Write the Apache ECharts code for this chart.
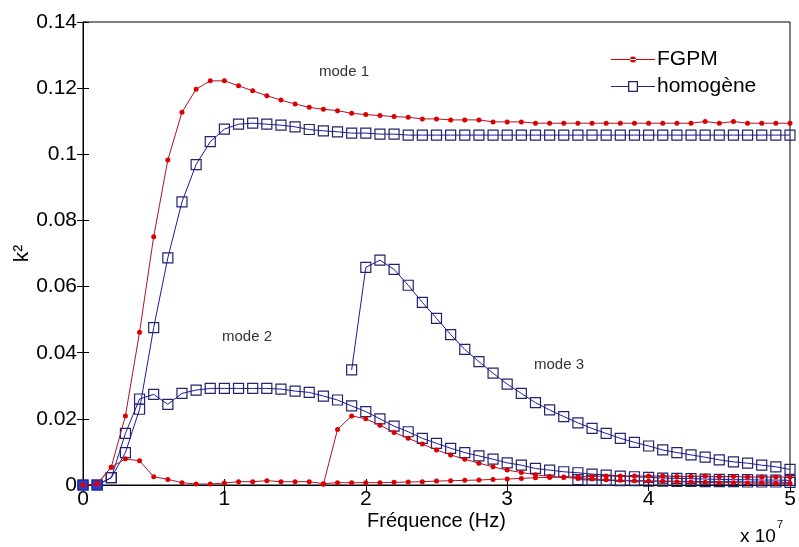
<!DOCTYPE html>
<html>
<head>
<meta charset="utf-8">
<script src="https://cdn.jsdelivr.net/npm/echarts@6/dist/echarts.min.js"></script>
<style>html,body{margin:0;padding:0;background:#fff}#c{width:799px;height:547px}</style>
</head>
<body>
<div id="c"></div>
<script>
// Frequency in units of 1e7 Hz
var freq = [0,0.1,0.2,0.3,0.4,0.5,0.6,0.7,0.8,0.9,1.0,1.1,1.2,1.3,1.4,1.5,1.6,1.7,1.8,1.9,2.0,2.1,2.2,2.3,2.4,2.5,2.6,2.7,2.8,2.9,3.0,3.1,3.2,3.3,3.4,3.5,3.6,3.7,3.8,3.9,4.0,4.1,4.2,4.3,4.4,4.5,4.6,4.7,4.8,4.9,5.0];
var xTicks = [0,1,2,3,4,5];
var yTicks = [0,0.02,0.04,0.06,0.08,0.1,0.12,0.14];

var fgpmMode1 = [0,0.0003,0.0054,0.0209,0.0462,0.0751,0.0983,0.1127,0.1197,0.1222,0.1222,0.1207,0.1192,0.1177,0.1164,0.1152,0.1142,0.1136,0.1132,0.1124,0.1120,0.1117,0.1114,0.1112,0.1107,0.1107,0.1104,0.1104,0.1104,0.1098,0.1098,0.1098,0.1094,0.1094,0.1094,0.1094,0.1094,0.1094,0.1094,0.1094,0.1094,0.1094,0.1094,0.1094,0.1099,0.1094,0.1099,0.1094,0.1094,0.1094,0.1094];
var fgpmMode2 = [0,0.0003,0.0054,0.0079,0.0073,0.0025,0.0017,0.0007,0.0003,0.0003,0.0006,0.0010,0.0010,0.0013,0.0010,0.0010,0.0010,0.0004,0.0007,0.0007,0.0007,0.0007,0.0008,0.0009,0.0010,0.0012,0.0013,0.0014,0.0015,0.0017,0.0018,0.0020,0.0022,0.0023,0.0024,0.0025,0.0026,0.0027,0.0027,0.0027,0.0027,0.0027,0.0026,0.0026,0.0027,0.0025,0.0026,0.0024,0.0024,0.0024,0.0024];
var fgpmMode3 = [null,null,null,null,null,null,null,null,null,null,null,null,null,null,null,null,null,0.0002,0.0168,0.0209,0.0200,0.0181,0.0159,0.0141,0.0124,0.0106,0.0091,0.0078,0.0066,0.0055,0.0045,0.0038,0.0031,0.0026,0.0023,0.0020,0.0018,0.0016,0.0014,0.0013,0.0012,0.0011,0.0010,0.0009,0.0008,0.0007,0.0007,0.0006,0.0006,0.0005,0.0005];

var homMode1 = [0,0,0.0022,0.0098,0.0229,0.0476,0.0687,0.0856,0.0969,0.1038,0.1076,0.1091,0.1094,0.1091,0.1088,0.1083,0.1075,0.1071,0.1068,0.1064,0.1064,0.1061,0.1061,0.1058,0.1058,0.1058,0.1058,0.1058,0.1058,0.1058,0.1058,0.1058,0.1058,0.1058,0.1058,0.1058,0.1058,0.1058,0.1058,0.1058,0.1058,0.1058,0.1058,0.1058,0.1058,0.1058,0.1058,0.1058,0.1058,0.1058,0.1058];
var homMode2 = [0,0,0.0022,0.0156,0.0260,0.0274,0.0244,0.0277,0.0287,0.0292,0.0292,0.0292,0.0292,0.0292,0.0290,0.0284,0.0280,0.0269,0.0257,0.0239,0.0222,0.0200,0.0178,0.0161,0.0141,0.0126,0.0111,0.0098,0.0088,0.0078,0.0067,0.0060,0.0050,0.0045,0.0040,0.0037,0.0033,0.0030,0.0027,0.0025,0.0023,0.0021,0.0020,0.0019,0.0018,0.0017,0.0016,0.0016,0.0015,0.0015,0.0014];
var homMode3 = [null,null,null,null,null,null,null,null,null,null,null,null,null,null,null,null,null,null,null,0.0348,0.0658,0.0680,0.0652,0.0604,0.0552,0.0504,0.0455,0.0410,0.0373,0.0338,0.0305,0.0277,0.0249,0.0227,0.0207,0.0188,0.0171,0.0156,0.0141,0.0129,0.0118,0.0106,0.0098,0.0091,0.0084,0.0076,0.0070,0.0066,0.0060,0.0055,0.0047];
var homMode4 = [null,null,null,null,null,null,null,null,null,null,null,null,null,null,null,null,null,null,null,null,null,null,null,null,null,null,null,null,null,null,null,null,null,null,null,0.0016,0.0015,0.0014,0.0013,0.0013,0.0012,0.0012,0.0011,0.0011,0.0010,0.0010,0.0010,0.0009,0.0009,0.0009,0.0008];

var RED_LINE = '#b0102a', RED_DOT = '#dd0000';
var BLUE_LINE = '#1a1aa0', BLUE_SQ = '#23236e';

function pairs(ys, fillFirst) {
  var out = [];
  for (var i = 0; i < freq.length; i++) {
    if (ys[i] === null) continue;
    var item = {value: [freq[i], ys[i]]};
    if (fillFirst && i < 2) item.itemStyle = {color: '#1f3fe0', borderColor: '#1f3fe0'};
    out.push(item);
  }
  return out;
}
function fgpm(ys) {
  return {name: 'FGPM', type: 'line', data: pairs(ys, false), symbol: 'circle', symbolSize: 5,
    showSymbol: true, lineStyle: {color: RED_LINE, width: 1}, itemStyle: {color: RED_DOT, borderWidth: 0},
    emphasis: {disabled: true}, animation: false, z: 3};
}
function hom(ys, fillFirst) {
  return {name: 'homogène', type: 'line', data: pairs(ys, fillFirst), symbol: 'rect', symbolSize: 10,
    showSymbol: true, lineStyle: {color: BLUE_LINE, width: 1},
    itemStyle: {color: 'rgba(255,255,255,0)', borderColor: BLUE_SQ, borderWidth: 1.2},
    emphasis: {disabled: true}, animation: false, z: 2};
}

var ICON_FGPM = 'path://M0 5.5H44V6.5H0Z M19 6a3 3 0 1 0 6 0a3 3 0 1 0 -6 0Z';
var ICON_HOM = 'path://M0 5.5H17V6.5H0Z M27 5.5H44V6.5H27Z M17 0.5H27V11.5H17Z M18.3 1.8V10.2H25.7V1.8Z';

var FONT = 'Liberation Sans, Arial, sans-serif';
var chart = echarts.init(document.getElementById('c'), null, {renderer: 'canvas'});
chart.setOption({
  animation: false,
  backgroundColor: '#fff',
  grid: {left: 83, right: 9, top: 22, bottom: 62, show: true, borderColor: '#000', borderWidth: 1,
    backgroundColor: 'transparent', containLabel: false, outerBoundsMode: 'none'},
  legend: {
    data: [
      {name: 'FGPM', icon: ICON_FGPM, itemStyle: {color: RED_DOT, borderWidth: 0}},
      {name: 'homogène', icon: ICON_HOM, itemStyle: {color: BLUE_SQ, borderWidth: 0}}
    ],
    orient: 'vertical', left: 606, top: 44, itemWidth: 44, itemHeight: 12, itemGap: 6,
    symbolKeepAspect: true,
    textStyle: {fontFamily: FONT, fontSize: 21, color: '#000', padding: [0, 0, 0, -3]},
    selectedMode: false
  },
  xAxis: [{
    type: 'value', min: 0, max: 5, interval: 1,
    name: 'Fréquence (Hz)', nameLocation: 'middle', nameGap: 26, nameMoveOverlap: false,
    nameTextStyle: {fontFamily: FONT, fontSize: 20, color: '#000'},
    axisLine: {show: true, lineStyle: {color: '#000', width: 1}},
    axisTick: {show: true, inside: true, length: 6, lineStyle: {color: '#000'}},
    axisLabel: {fontFamily: FONT, fontSize: 21, color: '#000', margin: 4,
      formatter: function (v) { return xTicks.indexOf(v) >= 0 ? String(v) : ''; }},
    splitLine: {show: false}
  }, {
    type: 'value', min: 0, max: 5, interval: 1, position: 'top',
    axisLine: {show: true, lineStyle: {color: '#000'}},
    axisTick: {show: true, inside: true, length: 6, lineStyle: {color: '#000'}},
    axisLabel: {show: false}, splitLine: {show: false}
  }],
  yAxis: [{
    type: 'value', min: 0, max: 0.14, interval: 0.02,
    name: 'k²', nameLocation: 'middle', nameGap: 50, nameRotate: 90, nameMoveOverlap: false,
    nameTextStyle: {fontFamily: FONT, fontSize: 21, color: '#000'},
    axisLine: {show: true, lineStyle: {color: '#000'}},
    axisTick: {show: true, inside: true, length: 6, lineStyle: {color: '#000'}},
    axisLabel: {fontFamily: FONT, fontSize: 21, color: '#000', margin: 6,
      formatter: function (v) { var r = Math.round(v * 100) / 100; return String(r); }},
    splitLine: {show: false}
  }, {
    type: 'value', min: 0, max: 0.14, interval: 0.02, position: 'right',
    axisLine: {show: true, lineStyle: {color: '#000'}},
    axisTick: {show: true, inside: true, length: 6, lineStyle: {color: '#000'}},
    axisLabel: {show: false}, splitLine: {show: false}
  }],
  graphic: [
    {type: 'text', left: 319, top: 64, style: {text: 'mode 1', font: '15px ' + FONT, fill: '#333'}},
    {type: 'text', left: 222, top: 329, style: {text: 'mode 2', font: '15px ' + FONT, fill: '#333'}},
    {type: 'text', left: 534, top: 357, style: {text: 'mode 3', font: '15px ' + FONT, fill: '#333'}},
    {type: 'text', left: 740, top: 527, style: {text: 'x 10', font: '19px ' + FONT, fill: '#000'}},
    {type: 'text', left: 777, top: 519, style: {text: '7', font: '11px ' + FONT, fill: '#000'}}
  ],
  series: [
    hom(homMode1, true), hom(homMode2, false), hom(homMode3, false), hom(homMode4, false),
    fgpm(fgpmMode1), fgpm(fgpmMode2), fgpm(fgpmMode3)
  ]
});
</script>
</body>
</html>
